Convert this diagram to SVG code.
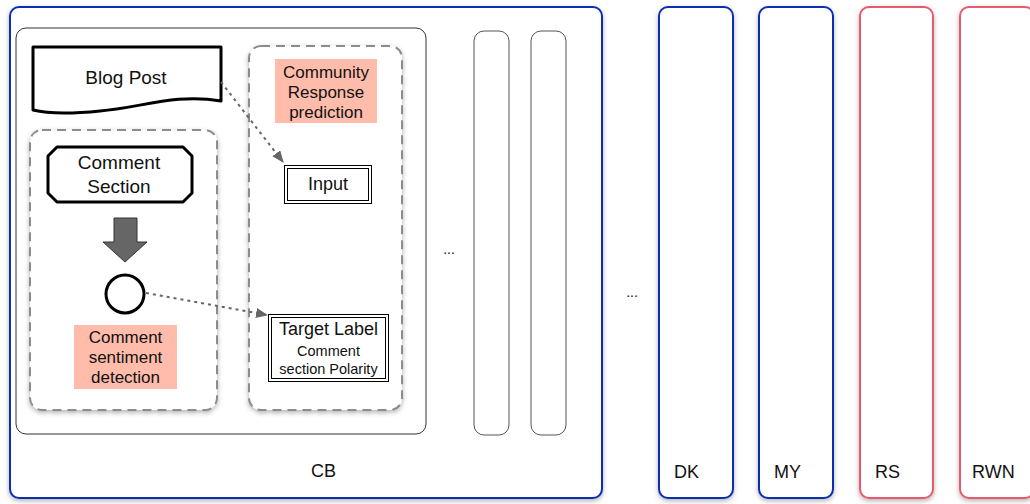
<svg xmlns="http://www.w3.org/2000/svg" width="1030" height="504" viewBox="0 0 1030 504">
<defs>
<filter id="sh" x="-10%" y="-10%" width="120%" height="120%">
<feDropShadow dx="0" dy="2" stdDeviation="2.5" flood-color="#000" flood-opacity="0.3"/>
</filter>
<marker id="ah" viewBox="0 0 12 10" refX="11" refY="5" markerWidth="12" markerHeight="10" markerUnits="userSpaceOnUse" orient="auto">
<path d="M0,0 L12,5 L0,10 Z" fill="#666"/>
</marker>
</defs>
<style>
text{font-family:"Liberation Sans",Arial,Helvetica,sans-serif;fill:#111;}
.blue{fill:#fff;stroke:#0D2DB0;stroke-width:2;}
.red{fill:#fff;stroke:#E85A6B;stroke-width:2;}
.col{fill:#fff;stroke:#555;stroke-width:1;}
.dash{fill:#fff;stroke:#8c8c8c;stroke-width:2;stroke-dasharray:9 6;}
.pink{fill:#FFBCAB;}
.thick{fill:#fff;stroke:#000;stroke-width:3;stroke-linejoin:round;}
.dbl{fill:#fff;stroke:#000;stroke-width:1;}
.conn{fill:none;stroke:#666;stroke-width:2;stroke-dasharray:3 4;marker-end:url(#ah);}
.lbl{font-size:18px;}
.mid{text-anchor:middle;}
</style>
<g id="CB">
<rect class="blue" x="10" y="7" width="592" height="491" rx="9" filter="url(#sh)"/>
<text class="lbl" x="311" y="477">CB</text>
</g>
<g id="inner">
<rect x="16" y="28" width="410" height="406" rx="10" fill="#fff" stroke="#333" stroke-width="1"/>
</g>
<g id="col1"><rect class="col" x="474" y="31" width="35" height="404" rx="10"/></g>
<g id="col2"><rect class="col" x="531" y="31" width="35" height="404" rx="10"/></g>
<text x="449" y="254" font-size="14" class="mid">...</text>
<text x="632" y="297" font-size="14" class="mid">...</text>
<g id="DK"><rect class="blue" x="659" y="7" width="74" height="491" rx="9" filter="url(#sh)"/><text class="lbl" x="674" y="478">DK</text></g>
<g id="MY"><rect class="blue" x="759" y="7" width="74" height="491" rx="9" filter="url(#sh)"/><text class="lbl" x="774" y="478">MY</text></g>
<g id="RS"><rect class="red" x="860" y="7" width="73" height="491" rx="9" filter="url(#sh)"/><text class="lbl" x="875" y="478">RS</text></g>
<g id="RWN"><rect class="red" x="960" y="7" width="74" height="491" rx="9" filter="url(#sh)"/><text class="lbl" x="972" y="478">RWN</text></g>
<g id="leftGroup"><rect class="dash" x="30" y="130" width="187" height="280" rx="12" filter="url(#sh)"/></g>
<g id="rightGroup"><rect class="dash" x="249" y="46" width="153" height="364" rx="12" filter="url(#sh)"/></g>
<g id="BlogPost">
<path class="thick" d="M33,47 H221 V101 C175,93 140,108 100,111 C70,114 45,113 33,110 Z"/>
<text x="126" y="84" font-size="19" class="mid">Blog Post</text>
</g>
<g id="CommentSection">
<path class="thick" d="M57,147 H183 L192,156 V193 L183,202 H57 L48,193 V156 Z"/>
<text x="119" y="169" font-size="19" class="mid">Comment</text>
<text x="119" y="193" font-size="19" class="mid">Section</text>
</g>
<g id="downArrow">
<path d="M114,218 H137 V242 H147 L125,262 L103,242 H114 Z" fill="#666" stroke="#333" stroke-width="1"/>
</g>
<g id="circle"><circle cx="125" cy="294" r="19" class="thick"/></g>
<g id="sentiment">
<rect class="pink" x="74" y="325" width="103" height="64"/>
<text x="125.5" y="343" font-size="17" class="mid">Comment</text>
<text x="125.5" y="363" font-size="17" class="mid">sentiment</text>
<text x="125.5" y="383" font-size="17" class="mid">detection</text>
</g>
<g id="community">
<rect class="pink" x="275" y="59" width="102" height="64"/>
<text x="326" y="78" font-size="17" class="mid">Community</text>
<text x="326" y="98" font-size="17" class="mid">Response</text>
<text x="326" y="118" font-size="17" class="mid">prediction</text>
</g>
<g id="Input">
<rect class="dbl" x="284.5" y="165.5" width="87" height="38"/>
<rect class="dbl" x="287.5" y="168.5" width="81" height="32"/>
<text x="328" y="190" font-size="18" class="mid">Input</text>
</g>
<g id="TargetLabel">
<rect class="dbl" x="268.5" y="314.5" width="120" height="67"/>
<rect class="dbl" x="271.5" y="317.5" width="114" height="61"/>
<text x="328.5" y="335" font-size="18" class="mid">Target Label</text>
<text x="328.5" y="356" font-size="14.5" class="mid">Comment</text>
<text x="328.5" y="374" font-size="14.5" class="mid">section Polarity</text>
</g>
<g id="connectors">
<path class="conn" d="M221,82 L283,162"/>
<path class="conn" d="M146,293 L267,315"/>
</g>
</svg>
